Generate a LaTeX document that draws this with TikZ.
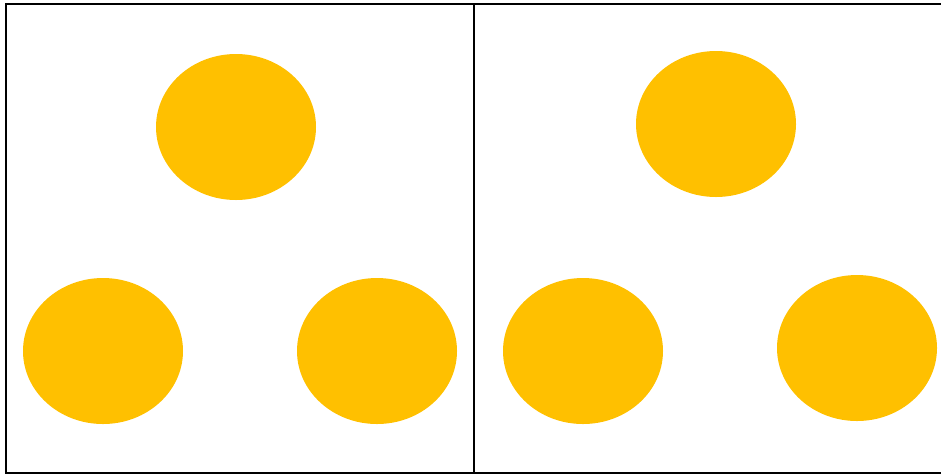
\documentclass[tikz,border=0pt]{standalone}
\begin{document}
\begin{tikzpicture}[x=1pt,y=-1pt,
  frame/.style={draw=black,line width=2.2pt},
  dot/.style={fill={rgb,255:red,255;green,192;blue,0},draw=none}]
\useasboundingbox (0,0) rectangle (941,475);
\clip (0,0) rectangle (941,475);
\draw[frame] (6,4) rectangle (474,473);
\draw[frame] (474,4) rectangle (950,473);
\fill[dot] (236,127) ellipse [x radius=80,y radius=73];
\fill[dot] (103,351) ellipse [x radius=80,y radius=73];
\fill[dot] (377,351) ellipse [x radius=80,y radius=73];
\fill[dot] (716,124) ellipse [x radius=80,y radius=73];
\fill[dot] (583,351) ellipse [x radius=80,y radius=73];
\fill[dot] (857,348) ellipse [x radius=80,y radius=73];
\end{tikzpicture}
\end{document}
